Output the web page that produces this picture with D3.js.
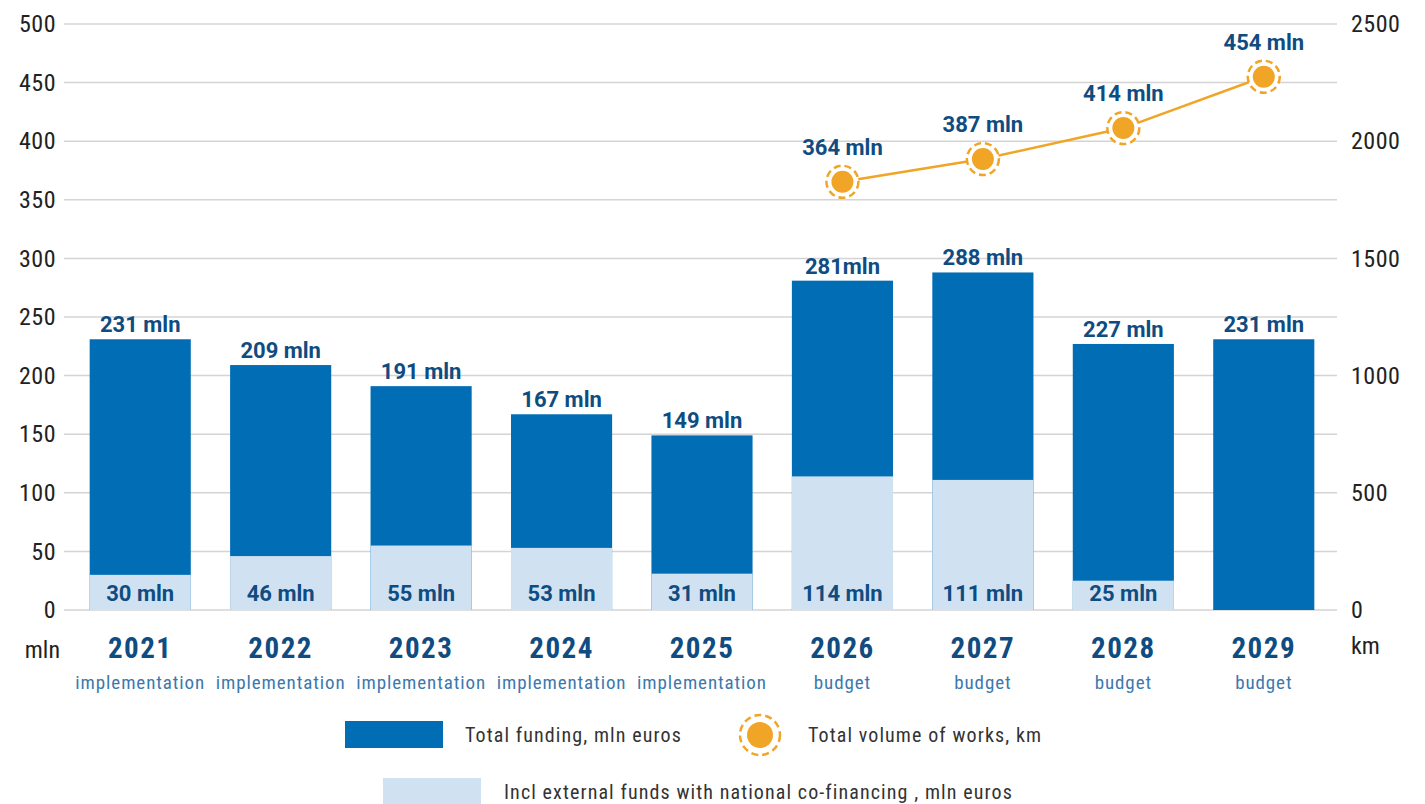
<!DOCTYPE html>
<html>
<head>
<meta charset="utf-8">
<script src="https://cdn.jsdelivr.net/npm/d3@7"></script>
<style>
  body { margin: 0; background: #fff; }
  text { font-family: "Roboto Condensed", "Liberation Sans Narrow", "Roboto", sans-serif; }
  .val { font-family: "Roboto", sans-serif; }
</style>
</head>
<body>
<div id="chart"></div>
<script>
var years = ["2021", "2022", "2023", "2024", "2025", "2026", "2027", "2028", "2029"];
var stages = ["implementation", "implementation", "implementation", "implementation", "implementation", "budget", "budget", "budget", "budget"];
var totalFunding = [231, 209, 191, 167, 149, 281, 288, 227, 231];
var totalLabels = ["231 mln", "209 mln", "191 mln", "167 mln", "149 mln", "281mln", "288 mln", "227 mln", "231 mln"];
var externalFunds = [30, 46, 55, 53, 31, 114, 111, 25, 0];
var worksYears = ["2026", "2027", "2028", "2029"];
var worksKm = [1827, 1924, 2056, 2275];
var worksLabels = ["364 mln", "387 mln", "414 mln", "454 mln"];
var leftTicks = [0, 50, 100, 150, 200, 250, 300, 350, 400, 450, 500];
var rightTicks = [0, 500, 1000, 1500, 2000, 2500];

var W = 1425, H = 804;
var dark = "#006db5", light = "#d0e2f2", navy = "#0f4c81", orange = "#f0a526";

var svg = d3.select("#chart").append("svg").attr("width", W).attr("height", H);

var x = d3.scaleBand().domain(years).range([70, 1334]).paddingInner(0.28).paddingOuter(0.14);
var y = d3.scaleLinear().domain([0, 500]).range([610, 24]);
var y2 = d3.scaleLinear().domain([0, 2500]).range([610, 24]);

// gridlines
svg.append("g").selectAll("line").data(leftTicks).enter().append("line")
  .attr("x1", 64).attr("x2", 1337)
  .attr("y1", function(d) { return y(d); }).attr("y2", function(d) { return y(d); })
  .attr("stroke", "#d4d4d4").attr("stroke-width", 1.5);

// axes
var leftAxis = svg.append("g").attr("transform", "translate(56,0)")
  .call(d3.axisLeft(y).tickValues(leftTicks).tickSize(0).tickPadding(0));
leftAxis.select(".domain").remove();
leftAxis.selectAll("text").attr("font-size", 24).attr("fill", "#222").attr("letter-spacing", 0.5)
  .style("font-family", "\"Roboto Condensed\", Roboto, sans-serif");

var rightAxis = svg.append("g").attr("transform", "translate(1351,0)")
  .call(d3.axisRight(y2).tickValues(rightTicks).tickFormat(d3.format("d")).tickSize(0).tickPadding(0));
rightAxis.select(".domain").remove();
rightAxis.selectAll("text").attr("font-size", 24).attr("fill", "#222").attr("letter-spacing", 0.5)
  .style("font-family", "\"Roboto Condensed\", Roboto, sans-serif");

svg.append("text").attr("x", 60).attr("y", 658).attr("text-anchor", "end")
  .attr("font-size", 24).attr("fill", "#222").text("mln");
svg.append("text").attr("x", 1351).attr("y", 654)
  .attr("font-size", 24).attr("fill", "#222").text("km");

// bars
svg.append("g").selectAll("rect").data(years).enter().append("rect")
  .attr("x", function(d) { return x(d); })
  .attr("width", x.bandwidth())
  .attr("y", function(d, i) { return y(totalFunding[i]); })
  .attr("height", function(d, i) { return y(0) - y(totalFunding[i]); })
  .attr("fill", dark);

svg.append("g").selectAll("rect").data(years).enter().append("rect")
  .attr("x", function(d) { return x(d); })
  .attr("width", x.bandwidth())
  .attr("y", function(d, i) { return y(externalFunds[i]); })
  .attr("height", function(d, i) { return y(0) - y(externalFunds[i]); })
  .attr("fill", light);

// bar labels
svg.append("g").selectAll("text").data(years).enter().append("text")
  .attr("class", "val")
  .attr("x", function(d) { return x(d) + x.bandwidth() / 2; })
  .attr("y", function(d, i) { return y(totalFunding[i]) - 7; })
  .attr("text-anchor", "middle").attr("font-size", 22).attr("font-weight", "bold")
  .attr("fill", navy).text(function(d, i) { return totalLabels[i]; });

svg.append("g").selectAll("text").data(years.filter(function(d, i) { return externalFunds[i] > 0; })).enter().append("text")
  .attr("class", "val")
  .attr("x", function(d) { return x(d) + x.bandwidth() / 2; })
  .attr("y", 601)
  .attr("text-anchor", "middle").attr("font-size", 22).attr("font-weight", "bold")
  .attr("fill", navy).text(function(d) { return externalFunds[years.indexOf(d)] + " mln"; });

// year + stage labels
svg.append("g").selectAll("text").data(years).enter().append("text")
  .attr("x", function(d) { return x(d) + x.bandwidth() / 2; })
  .attr("y", 658).attr("text-anchor", "middle").attr("letter-spacing", 1.5)
  .attr("font-size", 29).attr("font-weight", "bold").attr("fill", navy)
  .text(function(d) { return d; });

svg.append("g").selectAll("text").data(years).enter().append("text")
  .attr("x", function(d) { return x(d) + x.bandwidth() / 2; })
  .attr("y", 689).attr("text-anchor", "middle").attr("letter-spacing", 0.9)
  .attr("font-size", 19).attr("fill", "#3b78ae")
  .text(function(d, i) { return stages[i]; });

// line
var cx = function(d) { return x(d) + x.bandwidth() / 2; };
var line = d3.line().x(function(d, i) { return cx(worksYears[i]); }).y(function(d) { return y2(d); });
svg.append("path").datum(worksKm).attr("d", line)
  .attr("fill", "none").attr("stroke", orange).attr("stroke-width", 2.5);

var pts = svg.append("g").selectAll("g").data(worksKm).enter().append("g")
  .attr("transform", function(d, i) { return "translate(" + cx(worksYears[i]) + "," + y2(d) + ")"; });
pts.append("circle").attr("r", 16).attr("fill", "#fff").attr("stroke", orange)
  .attr("stroke-width", 2.5).attr("stroke-dasharray", "7,4");
pts.append("circle").attr("r", 11).attr("fill", orange);
pts.append("text").attr("class", "val").attr("y", -27).attr("text-anchor", "middle")
  .attr("font-size", 22).attr("font-weight", "bold").attr("fill", navy)
  .text(function(d, i) { return worksLabels[i]; });

// legend
var lg = svg.append("g");
lg.append("rect").attr("x", 345).attr("y", 721).attr("width", 98).attr("height", 27).attr("fill", dark);
lg.append("text").attr("x", 465).attr("y", 742).attr("font-size", 20).attr("letter-spacing", 1.1).attr("fill", "#333").text("Total funding, mln euros");
lg.append("circle").attr("cx", 760).attr("cy", 735).attr("r", 20).attr("fill", "#fff")
  .attr("stroke", orange).attr("stroke-width", 2.5).attr("stroke-dasharray", "7,4");
lg.append("circle").attr("cx", 760).attr("cy", 735).attr("r", 13).attr("fill", orange);
lg.append("text").attr("x", 808).attr("y", 742).attr("font-size", 20).attr("letter-spacing", 1.1).attr("fill", "#333").text("Total volume of works, km");
lg.append("rect").attr("x", 383).attr("y", 778).attr("width", 98).attr("height", 27).attr("fill", light);
lg.append("text").attr("x", 504).attr("y", 799).attr("font-size", 20).attr("letter-spacing", 1.1).attr("fill", "#333").text("Incl external funds with national co-financing , mln euros");
</script>
</body>
</html>
